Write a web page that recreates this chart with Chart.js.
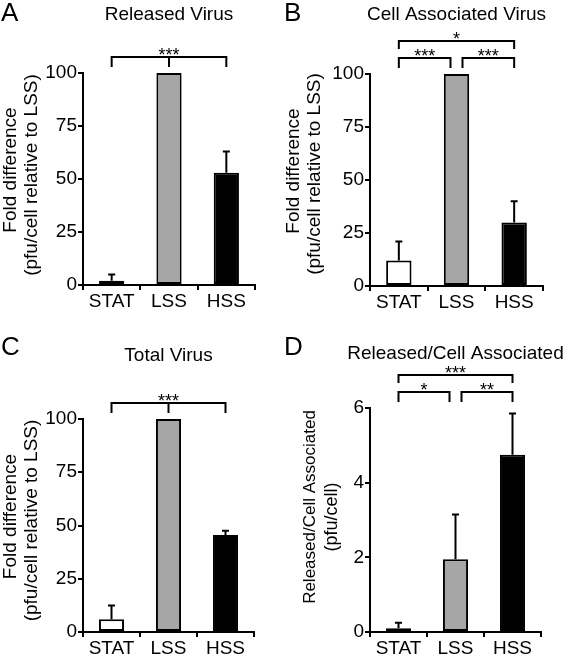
<!DOCTYPE html>
<html><head><meta charset="utf-8">
<script src="https://cdn.jsdelivr.net/npm/chart.js@4/dist/chart.umd.min.js"></script>
<style>
html,body{margin:0;padding:0;background:#fff;overflow:hidden;}
#wrap{position:relative;width:566px;height:656px;background:#fff;}
.panel{position:absolute;width:283px;}
canvas{display:block;}
</style></head><body>
<div id="wrap">
<div class="panel" style="left:0;top:0;height:328px"><canvas id="cA" width="283" height="328"></canvas></div>
<div class="panel" style="left:283px;top:0;height:328px"><canvas id="cB" width="283" height="328"></canvas></div>
<div class="panel" style="left:0;top:320px;height:336px"><canvas id="cC" width="283" height="336"></canvas></div>
<div class="panel" style="left:283px;top:320px;height:336px"><canvas id="cD" width="283" height="336"></canvas></div>
</div>
<script>
// ---- data ----
const categories = ['STAT', 'LSS', 'HSS'];
const releasedMeans = [2, 100, 53];
const releasedErrors = [3, 0, 10];
const cellAssocMeans = [12, 100, 30];
const cellAssocErrors = [9, 0, 10];
const totalMeans = [6, 100, 45.5];
const totalErrors = [6.5, 0, 2];
const ratioMeans = [0.1, 1.95, 4.75];
const ratioErrors = [0.15, 1.2, 1.1];
const foldTicks = [0, 25, 50, 75, 100];
const ratioTicks = [0, 2, 4, 6];
// significance brackets: [fromIndex, toIndex, label, level, midIndex]
const releasedSig = [[0, 2, '***', 0, 1]];
const cellAssocSig = [[0, 1, '***', 0, null], [1, 2, '***', 0, null], [0, 2, '*', 1, null]];
const totalSig = [[0, 2, '***', 0, 1]];
const ratioSig = [[0, 1, '*', 0, null], [1, 2, '**', 0, null], [0, 2, '***', 1, null]];

const barColors = ['#ffffff', '#a6a6a6', '#000000'];
const FONT = '"Liberation Sans", Arial, Helvetica, sans-serif';
Chart.defaults.font.family = FONT;
Chart.defaults.font.size = 19;
Chart.defaults.color = '#000';

const annot = {
  id: 'annot',
  afterDatasetsDraw(chart, args, o) {
    const ctx = chart.ctx, meta = chart.getDatasetMeta(0), y = chart.scales.y, ca = chart.chartArea;
    const vals = chart.data.datasets[0].data;
    ctx.save();
    ctx.strokeStyle = '#000'; ctx.fillStyle = '#000'; ctx.lineWidth = 2;
    // error bars (upper only)
    o.errors.forEach((e, i) => {
      if (!e) return;
      const x = meta.data[i].x;
      const yt = y.getPixelForValue(vals[i] + e), yb = y.getPixelForValue(vals[i]);
      ctx.beginPath();
      ctx.moveTo(x, yb); ctx.lineTo(x, yt);
      ctx.moveTo(x - 3.5, yt); ctx.lineTo(x + 3.5, yt);
      ctx.stroke();
    });
    // significance brackets
    o.brackets.forEach(b => {
      const [from, to, label, level, mid] = b;
      const ly = ca.top - (level === 1 ? 33 : 16);
      const tk = level === 1 ? 8 : 10;
      let x1 = meta.data[from].x, x2 = meta.data[to].x;
      if (to - from === 1) { if (from === 1) x1 += 6; if (to === 1) x2 -= 6; }
      ctx.beginPath();
      ctx.moveTo(x1, ly + tk); ctx.lineTo(x1, ly); ctx.lineTo(x2, ly); ctx.lineTo(x2, ly + tk);
      if (mid !== null && mid !== undefined) {
        const xm = meta.data[mid].x;
        ctx.moveTo(xm, ly); ctx.lineTo(xm, ly + tk);
      }
      ctx.stroke();
      ctx.font = '18px ' + FONT; ctx.textAlign = 'center'; ctx.textBaseline = 'alphabetic';
      ctx.fillText(label, (x1 + x2) / 2, ly + 4);
    });
    // panel title and letter
    ctx.textBaseline = 'alphabetic';
    ctx.font = '19px ' + FONT; ctx.textAlign = 'center';
    ctx.fillText(o.title, (ca.left + ca.right) / 2, o.titleY);
    ctx.font = '26px ' + FONT; ctx.textAlign = 'left';
    ctx.fillText(o.letter, 1, o.letterY);
    // y axis title lines
    o.yTitle.forEach(t => {
      ctx.save();
      ctx.translate(t.x, (ca.top + ca.bottom) / 2 + t.dy);
      ctx.rotate(-Math.PI / 2);
      ctx.font = t.size + 'px ' + FONT; ctx.textAlign = 'center'; ctx.textBaseline = 'middle';
      ctx.fillText(t.text, 0, 0);
      ctx.restore();
    });
    ctx.restore();
  }
};

function makeChart(id, means, errors, ticks, brackets, area, extra) {
  const yMax = ticks[ticks.length - 1];
  const H = area.height;
  return new Chart(document.getElementById(id), {
    type: 'bar',
    data: {
      labels: categories,
      datasets: [{
        data: means,
        backgroundColor: barColors,
        borderColor: '#000',
        borderWidth: 2,
        borderSkipped: false,
        categoryPercentage: 1,
        barPercentage: 0.44
      }]
    },
    options: {
      responsive: false,
      animation: false,
      events: [],
      layout: { padding: { left: 0, top: area.top, right: 283 - area.right, bottom: H - area.bottom - 24 } },
      plugins: {
        legend: { display: false },
        tooltip: { enabled: false },
        annot: Object.assign({ errors: errors, brackets: brackets }, extra)
      },
      scales: {
        x: {
          offset: true,
          afterFit: s => { s.height = 24; },
          border: { display: true, color: '#000', width: 2 },
          grid: { display: true, offset: true, drawOnChartArea: false, drawTicks: true, tickLength: 5, color: '#000', lineWidth: 2 },
          ticks: { color: '#000', font: { size: 19, family: FONT }, padding: 0, maxRotation: 0, autoSkip: false }
        },
        y: {
          min: 0, max: yMax,
          afterBuildTicks: s => { s.ticks = ticks.map(v => ({ value: v })); },
          afterFit: s => { s.width = area.left; },
          border: { display: true, color: '#000', width: 2 },
          grid: { display: true, drawOnChartArea: false, drawTicks: true, tickLength: 5, color: '#000', lineWidth: 2 },
          ticks: { color: '#000', font: { size: 19, family: FONT }, padding: 1 }
        }
      }
    },
    plugins: [annot]
  });
}

makeChart('cA', releasedMeans, releasedErrors, foldTicks, releasedSig,
  { left: 83, right: 255, top: 73, bottom: 285, height: 328 },
  { title: 'Released Virus', titleY: 20, letter: 'A', letterY: 21,
    yTitle: [{ text: 'Fold difference', x: 11, dy: -9, size: 19 }, { text: '(pfu/cell relative to LSS)', x: 32, dy: -4, size: 19 }] });
makeChart('cB', cellAssocMeans, cellAssocErrors, foldTicks, cellAssocSig,
  { left: 87, right: 260, top: 74, bottom: 286, height: 328 },
  { title: 'Cell Associated Virus', titleY: 20, letter: 'B', letterY: 21,
    yTitle: [{ text: 'Fold difference', x: 11, dy: -9, size: 19 }, { text: '(pfu/cell relative to LSS)', x: 32, dy: -6, size: 19 }] });
makeChart('cC', totalMeans, totalErrors, foldTicks, totalSig,
  { left: 83, right: 254, top: 99, bottom: 312, height: 336 },
  { title: 'Total Virus', titleY: 41, letter: 'C', letterY: 35,
    yTitle: [{ text: 'Fold difference', x: 11, dy: -9, size: 19 }, { text: '(pfu/cell relative to LSS)', x: 32, dy: -5, size: 19 }] });
makeChart('cD', ratioMeans, ratioErrors, ratioTicks, ratioSig,
  { left: 87, right: 258, top: 88, bottom: 312, height: 336 },
  { title: 'Released/Cell Associated', titleY: 39, letter: 'D', letterY: 35,
    yTitle: [{ text: 'Released/Cell Associated', x: 27, dy: -13, size: 17 }, { text: '(pfu/cell)', x: 49, dy: -3, size: 18 }] });
</script>
</body></html>
